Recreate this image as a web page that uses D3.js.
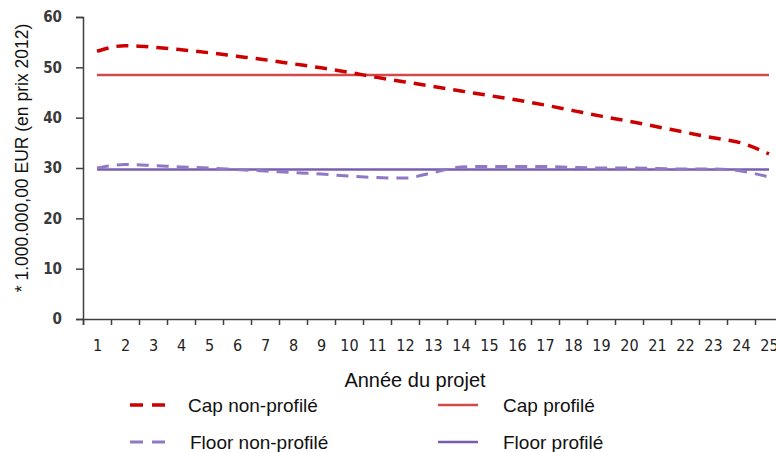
<!DOCTYPE html>
<html><head><meta charset="utf-8">
<script src="https://cdn.jsdelivr.net/npm/d3@7"></script>
<style>html,body{margin:0;padding:0;background:#fff;overflow:hidden}</style>
</head><body>
<svg id="c" width="776" height="452"></svg>
<script>
const years = d3.range(1, 26);
const capNonProfile = [53.2,54.3,54.0,53.5,52.9,52.2,51.5,50.7,49.9,49.0,48.0,47.1,46.2,45.3,44.4,43.5,42.5,41.4,40.3,39.3,38.2,37.1,36.0,35.0,32.8];
const capProfile = years.map(() => 48.5);
const floorNonProfile = [30.0,30.7,30.5,30.2,30.0,29.7,29.4,29.1,28.8,28.4,28.1,28.0,29.1,30.2,30.3,30.3,30.3,30.1,30.0,30.0,29.9,29.8,29.8,29.4,28.2];
const floorProfile = years.map(() => 29.7);
const yTicks = [0,10,20,30,40,50,60];
const labels = ["Cap non-profilé","Cap profilé","Floor non-profilé","Floor profilé"];

const svg = d3.select("#c");
const x = d3.scaleLinear().domain([0.5, 25.5]).range([83, 783]);
const y = d3.scaleLinear().domain([0, 60]).range([319, 17]);
const axisCol = "#404040";
const tickFont = "DejaVu Sans Condensed, DejaVu Sans, sans-serif";
const textFont = "Liberation Sans, Arial, sans-serif";

// Y axis
const ya = svg.append("g").attr("transform","translate(83,0)")
  .call(d3.axisLeft(y).tickValues(yTicks).tickSize(7).tickPadding(14));
ya.select(".domain").attr("stroke",axisCol).attr("stroke-width",1.5);
ya.selectAll(".tick line").attr("stroke",axisCol).attr("stroke-width",1.5);
ya.selectAll(".tick text").attr("font-family",tickFont).attr("font-size",15).attr("fill","#3a3a3a").attr("font-weight","bold");

// X axis tick marks at band boundaries
const xm = svg.append("g").attr("transform","translate(0,319)")
  .call(d3.axisBottom(x).tickValues(d3.range(0.5, 25.5, 1)).tickSize(6).tickFormat(""));
xm.select(".domain").attr("stroke",axisCol).attr("stroke-width",1.5);
xm.selectAll(".tick line").attr("stroke",axisCol).attr("stroke-width",1.5);
// X labels
const xl = svg.append("g").attr("transform","translate(0,319)")
  .call(d3.axisBottom(x).tickValues(years).tickSize(0).tickPadding(21));
xl.select(".domain").remove();
xl.selectAll(".tick text").attr("font-family",tickFont).attr("font-size",16).attr("fill","#222");

// Y title
svg.append("text").attr("transform","translate(28,158) rotate(-90)")
  .attr("text-anchor","middle").attr("font-family",textFont)
  .attr("font-size",17.5).attr("fill","#111").text("* 1.000.000,00 EUR (en prix 2012)");
// X title
svg.append("text").attr("x",415).attr("y",387).attr("text-anchor","middle")
  .attr("font-family",textFont).attr("font-size",20).attr("fill","#111")
  .text("Année du projet");

const series = [
  {name:labels[0], data:capNonProfile, color:"#cc0000", width:3.5, dash:"12,8"},
  {name:labels[1], data:capProfile, color:"#d24a4a", width:2.5, dash:null},
  {name:labels[2], data:floorNonProfile, color:"#8f79c4", width:3, dash:"12,8"},
  {name:labels[3], data:floorProfile, color:"#7a5cae", width:2.5, dash:null}
];
const line = d3.line().x((d,i)=>x(years[i])).y(d=>y(d)).curve(d3.curveMonotoneX);
const drawOrder = [1,3,2,0];
drawOrder.forEach(k => {
  const s = series[k];
  svg.append("path").datum(s.data).attr("d",line).attr("fill","none")
    .attr("stroke",s.color).attr("stroke-width",s.width)
    .attr("stroke-dasharray",s.dash);
});

// Legend
const legPos = [{x:130,y:405,tx:188},{x:438,y:405,tx:503},{x:130,y:442,tx:190},{x:438,y:442,tx:503}];
series.forEach((s,i) => {
  const p = legPos[i];
  svg.append("line").attr("x1",p.x).attr("x2",p.x+(s.dash?35:40)).attr("y1",p.y).attr("y2",p.y)
    .attr("stroke",s.color).attr("stroke-width",s.width).attr("stroke-dasharray",s.dash?"13,9":null);
  svg.append("text").attr("x",p.tx).attr("y",p.y+7).attr("font-family",textFont)
    .attr("font-size",19).attr("fill","#111").text(s.name);
});
</script>
</body></html>
